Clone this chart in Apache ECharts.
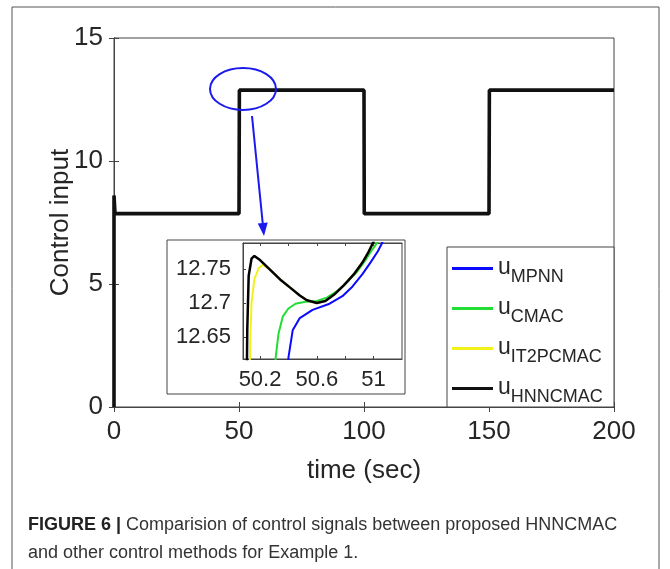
<!DOCTYPE html>
<html lang="en">
<head>
    <meta charset="UTF-8">
    <script src="https://cdn.jsdelivr.net/npm/echarts@6.0.0/dist/echarts.min.js"></script>
    <title>Control input</title>
    <style>html, body { margin: 0; padding: 0; background: #fff; }</style>
</head>
<body>
    <div id="main" style="width: 670px;height:569px;"></div>
    <script type="text/javascript">
      // main plot: the four control signals overlap at this scale
      var mainT = [0, 0, 0.4, 50, 50.15, 100, 100.1, 150, 150.15, 200];
      var mainU = [0, 8.6, 7.86, 7.86, 12.88, 12.88, 7.86, 7.86, 12.88, 12.88];

      // zoomed view around t = 50 s
      var mpnnT = [50.395, 50.40, 50.43, 50.48, 50.57, 50.69, 50.78, 50.85, 50.92, 50.98, 51.03, 51.06, 51.10];
      var mpnnU = [12.55, 12.62, 12.66, 12.678, 12.69, 12.699, 12.71, 12.724, 12.742, 12.76, 12.776, 12.788, 12.81];
      var cmacT = [50.305, 50.31, 50.33, 50.36, 50.40, 50.45, 50.52, 50.60, 50.67, 50.74, 50.81, 50.88, 50.94, 50.99, 51.03, 51.08];
      var cmacU = [12.55, 12.62, 12.655, 12.68, 12.692, 12.699, 12.702, 12.703, 12.708, 12.717, 12.73, 12.745, 12.762, 12.778, 12.79, 12.81];
      var it2T = [50.128, 50.13, 50.14, 50.16, 50.19, 50.22, 50.27, 50.35, 50.41, 50.48, 50.53, 50.60, 50.66, 50.72, 50.79, 50.86, 50.92, 50.96, 51.0, 51.05];
      var it2U = [12.55, 12.64, 12.70, 12.735, 12.751, 12.756, 12.749, 12.733, 12.723, 12.711, 12.704, 12.70, 12.703, 12.712, 12.726, 12.742, 12.759, 12.773, 12.79, 12.81];
      var hnnT = [50.105, 50.11, 50.12, 50.14, 50.16, 50.20, 50.27, 50.35, 50.41, 50.48, 50.53, 50.60, 50.66, 50.72, 50.79, 50.86, 50.92, 50.96, 51.0, 51.05];
      var hnnU = [12.55, 12.66, 12.74, 12.765, 12.769, 12.763, 12.749, 12.733, 12.723, 12.711, 12.704, 12.70, 12.703, 12.712, 12.726, 12.742, 12.759, 12.773, 12.79, 12.81];

      var zoomXLabels = [50.2, 50.6, 51];
      var zoomXTicks = [50.2, 50.4, 50.6, 50.8, 51];
      var zoomYLabels = [12.65, 12.7, 12.75];

      var names = ['MPNN', 'CMAC', 'IT2PCMAC', 'HNNCMAC'];
      var colors = ['#0a0aff', '#22dd33', '#f2f21a', '#000000'];

      function pairs(t, u) {
        var out = [];
        for (var i = 0; i < t.length; i++) out.push([t[i], u[i]]);
        return out;
      }

      var FONT = 'Liberation Sans';
      var TXT = '#262626';
      var AX = '#444';

      var myChart = echarts.init(document.getElementById('main'));

      var option = {
        animation: false,
        backgroundColor: '#fff',
        textStyle: { fontFamily: FONT },
        grid: [
          { left: 114, top: 38, width: 500, height: 369, show: true, borderColor: AX, borderWidth: 1, backgroundColor: 'transparent' },
          { left: 243, top: 243, width: 159, height: 116, show: true, borderColor: AX, borderWidth: 1, backgroundColor: 'transparent', z: 5 }
        ],
        xAxis: [
          {
            gridIndex: 0, type: 'value', min: 0, max: 200, interval: 50,
            axisLine: { show: true, lineStyle: { color: AX } },
            axisTick: { inside: true, length: 5, lineStyle: { color: AX } },
            axisLabel: { fontSize: 26, color: TXT, margin: 12, fontFamily: FONT },
            splitLine: { show: false },
            name: 'time (sec)', nameLocation: 'middle', nameGap: 51, nameMoveOverlap: false,
            nameTextStyle: { fontSize: 26, color: TXT, fontFamily: FONT }
          },
          {
            gridIndex: 0, type: 'value', position: 'top', min: 0, max: 200, interval: 50,
            axisLine: { show: true, lineStyle: { color: AX } },
            axisTick: { inside: true, length: 5, lineStyle: { color: AX } },
            axisLabel: { show: false }, splitLine: { show: false }
          },
          {
            gridIndex: 1, type: 'value', min: 50.08, max: 51.2, z: 5,
            axisLine: { show: true, lineStyle: { color: AX } },
            axisTick: { inside: true, length: 3, customValues: zoomXTicks, lineStyle: { color: AX } },
            axisLabel: { fontSize: 22, color: TXT, margin: 10, fontFamily: FONT, customValues: zoomXLabels },
            splitLine: { show: false }
          },
          {
            gridIndex: 1, type: 'value', position: 'top', min: 50.08, max: 51.2, z: 5,
            axisLine: { show: true, lineStyle: { color: AX } },
            axisTick: { inside: true, length: 3, customValues: zoomXTicks, lineStyle: { color: AX } },
            axisLabel: { show: false }, splitLine: { show: false }
          }
        ],
        yAxis: [
          {
            gridIndex: 0, type: 'value', min: 0, max: 15, interval: 5,
            axisLine: { show: true, lineStyle: { color: AX } },
            axisTick: { inside: true, length: 5, lineStyle: { color: AX } },
            axisLabel: { fontSize: 26, color: TXT, margin: 11, fontFamily: FONT },
            splitLine: { show: false },
            name: 'Control input', nameLocation: 'middle', nameGap: 40, nameMoveOverlap: false,
            nameTextStyle: { fontSize: 26, color: TXT, fontFamily: FONT }
          },
          {
            gridIndex: 0, type: 'value', position: 'right', min: 0, max: 15, interval: 5,
            axisLine: { show: true, lineStyle: { color: AX } },
            axisTick: { inside: true, length: 5, lineStyle: { color: AX } },
            axisLabel: { show: false }, splitLine: { show: false }
          },
          {
            gridIndex: 1, type: 'value', min: 12.618, max: 12.788, z: 5,
            axisLine: { show: true, lineStyle: { color: AX } },
            axisTick: { inside: true, length: 3, customValues: zoomYLabels, lineStyle: { color: AX } },
            axisLabel: { fontSize: 22, color: TXT, margin: 12, fontFamily: FONT, customValues: zoomYLabels },
            splitLine: { show: false }
          }
        ],
        legend: {
          orient: 'vertical', left: 452, top: 250, z: 8, padding: 0,
          data: names, icon: 'rect', itemWidth: 41, itemHeight: 3, itemGap: 3,
          selectedMode: false,
          formatter: function (n) { return '{u|u}{s|' + n + '}'; },
          textStyle: {
            color: TXT, fontFamily: FONT,
            rich: {
              u: { fontSize: 23, fontFamily: FONT, color: TXT, lineHeight: 22, padding: [6, 0, 8, 0] },
              s: { fontSize: 18, fontFamily: FONT, color: TXT, lineHeight: 18, padding: [18, 0, 0, 0] }
            }
          }
        },
        series: [
          {
            name: 'HNNCMAC', type: 'line', xAxisIndex: 0, yAxisIndex: 0,
            data: pairs(mainT, mainU), showSymbol: false, color: '#111',
            lineStyle: { color: '#111', width: 3.6 }, z: 2
          },
          {
            name: names[0], type: 'line', xAxisIndex: 2, yAxisIndex: 2, data: pairs(mpnnT, mpnnU),
            showSymbol: false, color: colors[0], lineStyle: { color: colors[0], width: 2 }, z: 6, clip: true
          },
          {
            name: names[1], type: 'line', xAxisIndex: 2, yAxisIndex: 2, data: pairs(cmacT, cmacU),
            showSymbol: false, color: colors[1], lineStyle: { color: colors[1], width: 2 }, z: 6, clip: true
          },
          {
            name: names[2], type: 'line', xAxisIndex: 2, yAxisIndex: 2, data: pairs(it2T, it2U),
            showSymbol: false, color: colors[2], lineStyle: { color: colors[2], width: 2 }, z: 6, clip: true
          },
          {
            name: names[3], type: 'line', xAxisIndex: 2, yAxisIndex: 2, data: pairs(hnnT, hnnU),
            showSymbol: false, color: colors[3], lineStyle: { color: colors[3], width: 2.5 }, z: 7, clip: true
          }
        ]
      };

      myChart.setOption(option);

      // annotation: ellipse around the step at t=50 and arrow down to the inset
      var c = myChart.convertToPixel({ gridIndex: 0 }, [51.6, 12.93]);
      var a0 = myChart.convertToPixel({ gridIndex: 0 }, [55.2, 11.83]);
      var a1 = myChart.convertToPixel({ gridIndex: 0 }, [60, 6.95]);
      var dx = a1[0] - a0[0], dy = a1[1] - a0[1];
      var len = Math.sqrt(dx * dx + dy * dy), ux = dx / len, uy = dy / len;
      var hb = [a1[0] - ux * 13, a1[1] - uy * 13];

      myChart.setOption({
        graphic: [
          { type: 'rect', z: -20, shape: { x: 12, y: 7, width: 647, height: 600 }, style: { fill: 'none', stroke: '#555', lineWidth: 1 } },
          { type: 'rect', z: 3, shape: { x: 167, y: 240, width: 238, height: 154 }, style: { fill: '#fff', stroke: AX, lineWidth: 1 } },
          { type: 'rect', z: 3, shape: { x: 447, y: 247, width: 167, height: 160 }, style: { fill: '#fff', stroke: AX, lineWidth: 1 } },
          { type: 'ellipse', z: 4, shape: { cx: c[0], cy: c[1], rx: 33, ry: 21 }, style: { fill: 'none', stroke: '#1a1aee', lineWidth: 2 } },
          { type: 'line', z: 4, shape: { x1: a0[0], y1: a0[1], x2: hb[0], y2: hb[1] }, style: { stroke: '#1a1aee', lineWidth: 2 } },
          { type: 'polygon', z: 4, shape: { points: [a1, [hb[0] - uy * 5, hb[1] + ux * 5], [hb[0] + uy * 5, hb[1] - ux * 5]] }, style: { fill: '#1a1aee' } },
          {
            type: 'text', z: 4, left: 28, top: 511,
            style: {
              text: '{b|FIGURE 6 |} Comparision of control signals between proposed HNNCMAC\nand other control methods for Example 1.',
              font: '18px "Liberation Sans"', fill: '#333', lineHeight: 28,
              rich: { b: { fontWeight: 'bold', fontSize: 18, fontFamily: FONT, fill: '#222', lineHeight: 28 } }
            }
          }
        ]
      });
    </script>
</body>
</html>
